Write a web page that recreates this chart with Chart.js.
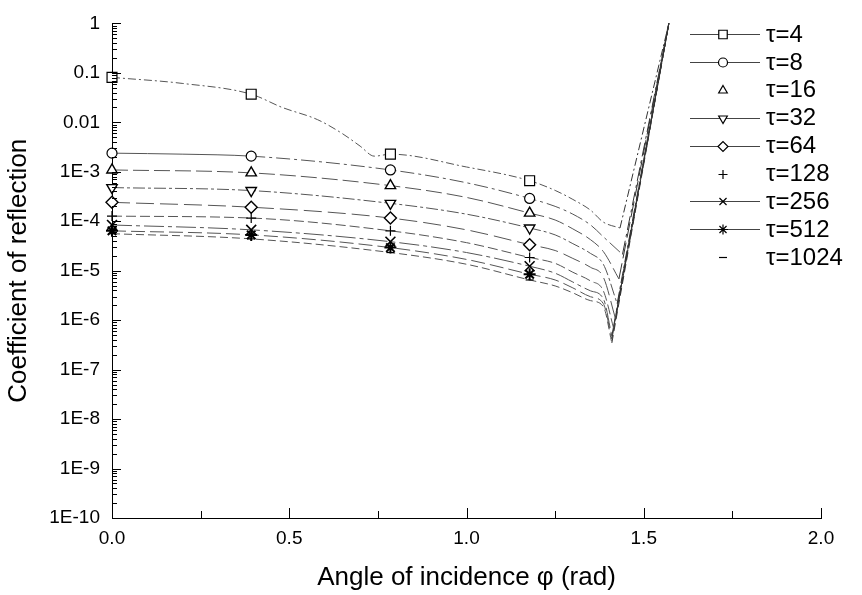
<!DOCTYPE html>
<html>
<head>
<meta charset="utf-8">
<script src="https://cdn.jsdelivr.net/npm/chart.js@4.4.1/dist/chart.umd.min.js"></script>
<style>
  html, body { margin: 0; padding: 0; background: #fff; }
  #wrap { width: 862px; height: 595px; }
</style>
</head>
<body>
<div id="wrap"><canvas id="reflChart" width="862" height="595"></canvas></div>
<script>
// angles (rad) shared by the curves, markers sit at multiples of pi/8
const angles = [0, 0.2, 0.3927, 0.48, 0.58, 0.65, 0.70, 0.74, 0.7854, 1.0, 1.1781, 1.25, 1.3, 1.35, 1.386];
const markerAngles = [0, 0.3927, 0.7854, 1.1781];
const tauValues = [4, 8, 16, 32, 64, 128, 256, 512, 1024];

// coefficient of reflection (null = no reading there)
const r4    = [8.1e-2, 6.1e-2, 3.7e-2, 2.0e-2, 1.13e-2, 5.9e-3, 3.3e-3, 2.07e-3, 2.27e-3, 1.25e-3, 6.6e-4, 4.2e-4, 2.76e-4, 1.67e-4, 9.6e-5];
const r8    = [2.38e-3, 2.27e-3, 2.07e-3, null, null, null, null, null, 1.09e-3, 6.0e-4, 2.89e-4, 2.0e-4, 1.39e-4, 8.4e-5, 4.85e-5];
const r16   = [1.09e-3, null, 9.5e-4, null, null, null, null, null, 5.25e-4, 3.03e-4, 1.46e-4, 1.06e-4, 7.0e-5, 4.23e-5, 2.44e-5];
const r32   = [4.79e-4, null, 4.17e-4, null, null, null, null, null, 2.30e-4, 1.39e-4, 7.3e-5, 5.3e-5, 3.52e-5, 2.23e-5, 1.35e-5];
const r64   = [2.41e-4, null, 1.92e-4, null, null, null, null, null, 1.16e-4, 6.7e-5, 3.36e-5, 2.56e-5, 1.77e-5, 1.17e-5, 7.4e-6];
const r128  = [1.27e-4, null, 1.16e-4, null, null, null, null, null, 6.4e-5, 3.69e-5, 1.85e-5, 1.41e-5, 9.3e-6, 6.2e-6, 3.91e-6];
const r256  = [8.4e-5, null, 6.7e-5, null, null, null, null, null, 3.86e-5, 2.33e-5, 1.23e-5, 8.9e-6, 5.9e-6, 3.91e-6, 2.71e-6];
const r512  = [6.4e-5, null, 5.3e-5, null, null, null, null, null, 2.93e-5, 1.69e-5, 8.5e-6, 6.5e-6, 4.49e-6, 2.97e-6, 2.16e-6];
const r1024 = [5.6e-5, null, 4.4e-5, null, null, null, null, null, 2.33e-5, 1.35e-5, 6.5e-6, 4.92e-6, 3.57e-6, 2.48e-6, 1.88e-6];

// bottom of the dip near 1.4 rad, then every curve climbs to 1 at pi/2
const dipAngle = [1.433, 1.44, 1.43, 1.425, 1.42, 1.415, 1.41, 1.41, 1.41];
const dipValue = [7.3e-5, 2.13e-5, 6.8e-6, 2.16e-6, 1.09e-6, 6.9e-7, 4.8e-7, 4.15e-7, 3.46e-7];
const endAngle = 1.5708;
const endValue = 1;

const yTickLabels = ['1', '0.1', '0.01', '1E-3', '1E-4', '1E-5', '1E-6', '1E-7', '1E-8', '1E-9', '1E-10'];
const xTickLabels = ['0.0', '0.5', '1.0', '1.5', '2.0'];

const curves = [r4, r8, r16, r32, r64, r128, r256, r512, r1024];

// styles
const lineDash = [[8, 3, 2, 3], [14, 4, 3, 4], [16, 5], [12, 3, 3, 3], [18, 6], [10, 4], [20, 4, 4, 4], [14, 5], [8, 4]];
const markerStyle = ['rect', 'circle', 'triangle', 'triangle', 'rectRot', 'cross', 'crossRot', 'star', 'line'];
const markerRotation = [0, 0, 0, 180, 0, 0, 0, 0, 0];
const markerRadius = [7, 5, 6, 6, 6, 5, 7, 6, 4];
const markerBorder = [1.2, 1.2, 1.4, 1.4, 1.4, 1.2, 1.6, 2, 1.2];
const legendRadius = [6, 4.5, 5, 5, 5, 4.5, 5, 5, 4];
const legendLine = [true, true, false, true, true, false, true, true, false];

Chart.defaults.font.family = '"Liberation Sans", Arial, sans-serif';
Chart.defaults.color = '#000';

const datasets = [];
curves.forEach((vals, i) => {
    const pts = angles.map((a, j) => ({ x: a, y: vals[j] }));
    pts.push({ x: dipAngle[i], y: dipValue[i] });
    datasets.push({
        label: 'τ=' + tauValues[i],
        data: pts,
        borderColor: '#555',
        borderWidth: 1,
        borderDash: lineDash[i],
        // tau=8 starts with a solid stretch up to the second marker
        segment: i === 1 ? { borderDash: (ctx) => ctx.p0.parsed.x < 0.39 ? [] : lineDash[i] } : undefined,
        cubicInterpolationMode: 'monotone',
        spanGaps: true,
        pointStyle: markerStyle[i],
        pointRotation: markerRotation[i],
        pointRadius: (ctx) => (ctx.raw && markerAngles.includes(ctx.raw.x)) ? markerRadius[i] : 0,
        pointBorderColor: '#000',
        pointBackgroundColor: '#fff',
        pointBorderWidth: markerBorder[i],
        clip: false,
    });
    // steep rise out of the dip
    datasets.push({
        label: '',
        data: [{ x: dipAngle[i], y: dipValue[i] }, { x: endAngle, y: endValue }],
        borderColor: '#333',
        borderWidth: 1,
        borderDash: lineDash[i],
        pointRadius: 0,
        tension: 0,
        clip: false,
    });
});

function isDecade(v) {
    const l = Math.log10(v);
    return Math.abs(l - Math.round(l)) < 1e-6;
}

// inward tick marks on both axes
const innerTicks = {
    id: 'innerTicks',
    afterDraw(chart) {
        const { ctx, chartArea } = chart;
        const xs = chart.scales.x;
        const ys = chart.scales.y;
        ctx.save();
        ctx.strokeStyle = '#000';
        ctx.lineWidth = 1;
        ctx.beginPath();
        for (let e = -10; e <= 0; e++) {
            for (let s = 1; s <= 9; s++) {
                if (e === 0 && s > 1) break;
                const p = Math.round(ys.getPixelForValue(s * Math.pow(10, e))) + 0.5;
                const len = s === 1 ? 9 : 5;
                ctx.moveTo(chartArea.left, p);
                ctx.lineTo(chartArea.left + len, p);
            }
        }
        xs.ticks.forEach((t) => {
            const p = Math.round(xs.getPixelForValue(t.value)) + 0.5;
            const k = t.value * 2;
            const len = Math.abs(k - Math.round(k)) < 1e-9 ? 10 : 7;
            ctx.moveTo(p, chartArea.bottom);
            ctx.lineTo(p, chartArea.bottom - len);
        });
        ctx.stroke();
        ctx.restore();
    }
};

// legend in the upper right corner of the plot
const sideLegend = {
    id: 'sideLegend',
    afterDraw(chart) {
        const ctx = chart.ctx;
        const drawPoint = Chart.helpers && Chart.helpers.drawPoint;
        ctx.save();
        tauValues.forEach((tau, i) => {
            const y = 34 + i * 27.9;
            if (legendLine[i]) {
                ctx.strokeStyle = '#444';
                ctx.lineWidth = 1;
                ctx.setLineDash([]);
                ctx.beginPath();
                ctx.moveTo(690, Math.round(y) + 0.5);
                ctx.lineTo(760, Math.round(y) + 0.5);
                ctx.stroke();
            }
            if (drawPoint) {
                ctx.strokeStyle = '#000';
                ctx.fillStyle = '#fff';
                ctx.lineWidth = 1.2;
                drawPoint(ctx, {
                    pointStyle: markerStyle[i],
                    rotation: markerRotation[i],
                    radius: legendRadius[i],
                    borderWidth: 1.2
                }, 723, Math.round(y) + 0.5);
            }
            ctx.fillStyle = '#000';
            ctx.font = '24px "Liberation Sans", Arial, sans-serif';
            ctx.textBaseline = 'middle';
            ctx.textAlign = 'left';
            ctx.fillText('τ=' + tau, 766, y + 1);
        });
        ctx.restore();
    }
};

new Chart(document.getElementById('reflChart'), {
    type: 'line',
    data: { datasets: datasets },
    options: {
        responsive: false,
        animation: false,
        devicePixelRatio: 1,
        events: [],
        layout: { padding: { top: 15, right: 41, left: 0, bottom: 0 } },
        plugins: {
            legend: { display: false },
            tooltip: { enabled: false }
        },
        scales: {
            x: {
                type: 'linear',
                position: 'bottom',
                min: 0,
                max: 2,
                grid: { display: false, drawTicks: false },
                border: { display: true, color: '#000', width: 1 },
                ticks: {
                    stepSize: 0.25,
                    autoSkip: false,
                    maxRotation: 0,
                    padding: 9,
                    font: { size: 19 },
                    callback: (v) => {
                        const k = v * 2;
                        return Math.abs(k - Math.round(k)) < 1e-9 ? xTickLabels[Math.round(k)] : '';
                    }
                },
                title: {
                    display: true,
                    text: 'Angle of incidence φ (rad)',
                    font: { size: 26 },
                    padding: { top: 0, bottom: 2 }
                },
                afterFit: (scale) => { scale.height = 77; }
            },
            y: {
                type: 'logarithmic',
                position: 'left',
                min: 1e-10,
                max: 1,
                grid: { display: false, drawTicks: false },
                border: { display: true, color: '#000', width: 1 },
                ticks: {
                    autoSkip: false,
                    padding: 12,
                    font: { size: 19 },
                    callback: (v) => isDecade(v) ? yTickLabels[-Math.round(Math.log10(v))] : ''
                },
                title: {
                    display: true,
                    text: 'Coefficient of reflection',
                    font: { size: 26 },
                    padding: { top: 3, bottom: 0 }
                },
                afterFit: (scale) => { scale.width = 112; }
            }
        }
    },
    plugins: [innerTicks, sideLegend]
});
</script>
</body>
</html>
